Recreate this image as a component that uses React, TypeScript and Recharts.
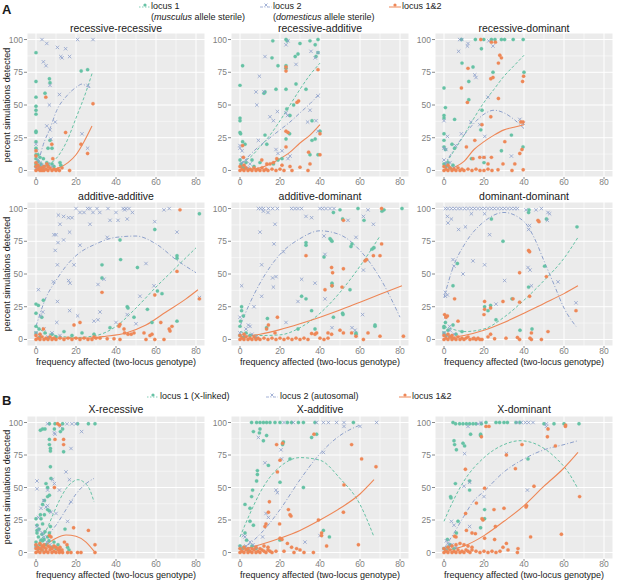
import { CartesianGrid, ComposedChart, Line, Scatter, XAxis, YAxis } from "recharts";

type Pt = [number, number];

// fitted curve points and raw points
const rrGreen: Pt[] = [[0,90],[0,68],[0,56],[0,49],[0,46],[0,43],[0,30],[0,29],[0,22],[0,17],[0,12],[0,9],[0,5],[0,3],[6.7,70],[7,67],[4.5,59],[7,23],[6,17],[8,17],[22.6,76],[25.8,77],[12,6],[12.4,4],[1,12],[2,10],[3.7,9],[5.4,6],[2.5,5],[1,7],[2,3],[4,3],[6,4],[8,5],[9,3],[3,1],[1,1]];
const rrBlue: Pt[] = [[3,100],[20.8,100],[28.5,100],[5.4,97],[10.7,94],[14.8,93],[12.4,87],[13,86],[16.8,87],[3.7,83],[5,80],[7,65],[26,65],[11.7,58],[6.7,50],[9.6,37],[5.4,34],[7,31],[7.4,24],[23,28],[25.8,17],[0.3,15],[0,20],[1,8],[2,6],[3,4],[1,3],[4,2],[6,5],[8,3],[5,1],[2,1],[0,2]];
const rrOrange: Pt[] = [[4.9,56],[28.5,51],[14.8,29],[7.9,20],[22.5,20],[25.8,13],[0,15],[0,11],[0,6],[8.4,9],[5.4,5],[0,3],[1,1],[2,0],[3,2],[4,0],[5,1],[6,0],[7,2],[8,0],[9,1],[10,0],[11,1],[11.7,0],[16.8,0],[13,2],[1,4],[2,2],[3,0],[0,0],[4,3],[6,3]];
const rrGreenFit: Pt[] = [[1,3],[5,4],[10,9],[15,21],[20,40],[25,60],[28,74]];
const rrBlueFit: Pt[] = [[1,5],[3.7,20],[7,32],[10.4,46],[15.4,57],[20.5,64],[23,66],[25.8,64],[28,63]];
const rrOrangeFit: Pt[] = [[3,1],[8,1],[12,2.5],[16,6],[20,12],[24,22],[28,34]];

const raGreen: Pt[] = [[16.4,99],[23,100],[23.6,99],[35,99],[39,100],[30,97],[37.6,96],[1.3,80],[29,89],[27.6,87],[16,86],[39,90],[38,87],[23,80],[23,78],[19,80],[18,62],[23,62],[28,66],[33,62],[12.5,60],[12,59],[0,65],[0,40],[0,38],[0.3,28],[0,29],[1.3,22],[2.5,20],[12.5,27],[13.4,20],[23.4,47],[25,42],[23,24],[36,38],[36,23],[40,30],[35,12],[39,12],[37.6,24],[24.8,28],[26.8,50],[6,8],[10,6],[16.7,5],[19,8],[21,9],[0,8],[0.5,5],[1,3],[2,2],[3,6],[7,3]];
const raBlue: Pt[] = [[23,96],[24,99],[35.5,91],[39,90],[37.6,86],[12.5,87],[28,81],[9.7,72],[8,60],[12,60],[8.4,50],[18.7,45],[15,41],[16.7,38],[23,44],[23.8,42],[35,46],[38,38],[39,57],[33.8,37],[9.2,23],[21,15],[0,17],[0,19],[1,15],[18,16],[19,13],[25,11],[24,9],[39,30],[0.8,6],[2,4],[4,2],[1,10],[3,8],[5,5]];
const raOrange: Pt[] = [[23,79],[23,76],[39,77],[28.5,52],[29.3,53],[23,30],[24,29],[23,18],[40,28],[40,12],[34.3,14],[35,5],[30,2.5],[34,0],[26,0],[25,3],[16.7,6],[15,5],[18.4,9],[21,4],[13.4,5],[1.3,19],[1.7,10],[10.9,8],[0,0],[1,1],[2,0],[3,2],[4,0],[5,1],[6,0],[7,2],[8,0],[9,1],[10,0],[11,2],[12,0],[13,1],[14,0],[16,1],[18,0],[20,1],[22,0],[0,3],[2,4]];
const raGreenFit: Pt[] = [[1,6],[5,10],[10,18],[15,27],[20,38],[25,50],[30,62],[35,73],[40,82]];
const raBlueFit: Pt[] = [[1,5],[5,12],[10,19],[15,25],[20,31],[25,37],[30,44],[35,51],[40,59]];
const raOrangeFit: Pt[] = [[2,1],[6,1],[10,2],[15,5],[20,9],[25,14],[30,21],[35,27],[40,35]];

const rdGreen: Pt[] = [[8.7,100],[15.7,100],[19.9,100],[23.7,100],[25.5,100],[28.7,100],[30.3,100],[34.6,100],[39.6,100],[18.7,93],[9,82],[14.5,79],[12.4,68],[12.4,54],[0,63],[0.7,48],[0,42],[0,40],[5.3,39],[0,28],[0,23],[0,18],[0.7,16],[4,20],[5.3,17],[19,46],[18.4,31],[24.5,75],[40,75],[39.5,18],[33.7,27],[28.7,15],[13.7,9],[20,6],[0,5],[1,3],[2,6],[3,2],[4.5,4]];
const rdBlue: Pt[] = [[7.8,100],[9,100],[12,97],[11.7,95],[22.4,99],[24.5,95],[7.3,91],[15.4,73],[16,71],[22,56],[13.4,37],[8.7,28],[5.8,19],[0,38],[1.7,26],[0,17],[1,16],[17.9,35],[20.4,26],[33.7,11],[37.9,39],[39.6,36],[20,10],[0,8],[1,5],[2,3],[3,6],[5,2]];
const rdOrange: Pt[] = [[18.4,100],[23.7,98],[25.7,98],[23.4,70],[24.5,71],[27.9,88],[28.7,86],[27.2,82],[12,78],[39.8,72],[39.3,68],[11.7,52],[8.7,63],[27.2,55],[23.4,41],[19,35],[38.4,37],[39.5,37],[30.4,22],[15.4,23],[11.2,18],[39,16],[37.9,13],[14.5,9],[17.9,10],[20,10],[23.7,10],[22,5],[29.5,5],[35.4,5],[39.6,0.5],[34,0],[27,0.5],[0,0],[1,1],[2,0],[3,2],[4,0],[5,1],[6,0],[7,2],[8,0],[9,1],[10,0],[12,1],[14,0],[16,1],[18,0],[20,0],[22,1],[24,0],[0,3],[2,4]];
const rdGreenFit: Pt[] = [[0,3],[5,15],[10,27],[15,40],[20,52],[25,62],[30,72],[35,80],[40,88]];
const rdBlueFit: Pt[] = [[0,4],[5,16],[10,27],[15,36],[20,43],[25,46],[30,44],[35,39],[40,32]];
const rdOrangeFit: Pt[] = [[3,1],[6,3],[10,7],[15,16],[20,22],[25,27],[30,31],[35,33],[40,35]];

const aaGreen: Pt[] = [[81.7,96],[59.4,84],[42,76],[42.3,61],[50.7,55],[70.5,64],[70.5,62],[33,57],[33,47],[60.7,37],[63,35],[45.6,25],[46,24],[55.7,23],[49,17],[70.5,14],[58,13],[0,20],[0,27],[1.2,26],[3.7,30],[2.9,17],[0,10],[1.5,8],[4.5,5],[8,4],[37,9],[23,5],[29,4],[14,6],[18,3],[0,5],[2,2],[6,1],[10,2]];
const aaBlue: Pt[] = [[20,100],[25.8,100],[27,100],[30.5,100],[36,100],[43.6,100],[45,100],[46.5,100],[64,99],[66.6,100],[22,97],[24,97],[28.5,97],[31.9,97],[40,97],[44.3,99],[48.2,97],[11.2,95],[13.8,94],[16.3,93],[18,93],[12,88],[27,88],[37,91],[41,91],[45.6,92],[59.4,90],[9,80],[10,80],[11,74],[13.8,76],[16.8,82],[70.5,82],[9.6,68],[22,72],[35.6,78],[19,57],[10.7,57],[16.3,45],[17,43],[8.7,44],[34,46],[31,42],[55,58],[59,41],[52,33],[81.7,32],[1.2,38],[10.7,29],[16.8,22],[20.8,18],[32,21],[45.6,19],[2.3,18],[3.4,21],[10.4,13],[29,14],[31,15],[40,13],[50,12],[0,5],[2,3],[4,8],[6,2],[8,5],[12,3]];
const aaOrange: Pt[] = [[72,99],[70.5,52],[33,36],[59.4,34],[81.7,31],[42,11.5],[41.5,10],[22,13],[19,11],[44,8],[54,5],[62.4,13],[66.6,8],[67,6.5],[68,10],[57,3],[59.4,0],[64,0],[58,4],[55,0],[49,5],[47.6,4],[46,4],[44.3,5],[42,0],[35.6,0.5],[39,0.5],[32,1],[29,2],[3.7,8],[0,0],[1,1],[2,0],[3,2],[4,0],[5,1],[6,0],[7,2],[8,0],[9,1],[10,0],[12,1],[14,0],[16,1],[18,0],[20,1],[22,0],[24,1],[26,0],[28,0],[30,1],[0,3],[2,4]];
const aaGreenFit: Pt[] = [[0,10],[5,5],[10,3],[20,1.5],[30,3],[40,10],[50,24],[60,40],[70,55],[80,70]];
const aaBlueFit: Pt[] = [[0,10],[5,32],[10,45],[15,56],[20,64],[30,73],[40,78],[50,79],[60,73],[70,61],[80,51]];
const aaOrangeFit: Pt[] = [[5,1.5],[15,1],[25,1],[35,2.5],[45,5],[55,11],[65,21],[75,31],[81,38]];

const adGreen: Pt[] = [[59,100],[81,100],[71,98],[72,99],[46.7,97],[50,99],[51.3,92],[62,91],[33,74],[33,72],[45,77],[45.5,76],[46,75],[42,63],[56,73],[55.5,71],[66,69],[67,70],[46,43],[46,41],[55,38],[30.8,33],[33,31],[35.8,22],[46.7,17],[51.3,20],[51.5,19],[0.8,25],[0.8,22],[1.7,18],[0.3,14],[0,10],[3,5],[13.7,16],[13.3,9],[29,8],[37.5,8],[67.5,10],[67.5,11],[58,5],[58,4],[0,3],[2,2],[5,3],[8,1]];
const adBlue: Pt[] = [[9.2,100],[10.4,100],[11.7,100],[14.2,100],[16.3,100],[18.7,100],[25.8,100],[27.5,100],[29,100],[30.8,100],[40,100],[41.3,100],[43,100],[45,100],[47,100],[11.7,98],[14,97],[17.5,88],[33,94],[35.8,93],[54,91],[61.7,94],[64,99],[66.7,88],[10,82],[42,79],[58,78],[17,73],[42.5,65],[21.7,67],[61.7,53],[10.8,57],[16.3,47],[18,48],[30.8,46],[37.5,43],[16.7,40],[0.8,41],[10.8,33],[7,25],[29,29],[42.5,31],[61.3,19],[23,13],[0,17],[4.2,11],[5,10],[46,9],[56,9],[57.5,7],[0,5],[2,3],[3,8],[6,4],[8,2]];
const adOrange: Pt[] = [[70.8,100],[51.7,91],[33,64],[45.8,55],[46.3,51],[51.7,54],[42.5,38],[46,41],[51,40],[70.8,73],[66.7,64],[70,64],[62.5,60],[63.3,61],[18.7,17],[14.2,11],[13.3,8],[17.5,5],[38.3,5],[37.5,4],[35.8,4.5],[44,5],[45.8,4],[50,7],[51.7,5],[61.7,0],[64,5],[70,2.5],[81.7,2.5],[58,2.5],[55.8,5],[0,0],[1,1],[2,0],[3,2],[4,0],[5,1],[6,0],[7,2],[8,0],[9,1],[10,0],[12,1],[14,0],[16,1],[18,0],[20,1],[22,0],[24,1],[26,0],[28,1],[30,0],[32,1],[34,0],[40,1],[42,0],[44,1],[0,3],[2,4]];
const adGreenFit: Pt[] = [[0,6],[10,3],[20,3.5],[30,9],[40,20],[50,36],[60,56],[70,79]];
const adBlueFit: Pt[] = [[0,10],[5,28],[10,43],[20,65],[30,77],[40,83],[50,80],[60,68],[70,47],[80,17]];
const adOrangeFit: Pt[] = [[0,2],[10,4],[20,7.5],[30,12],[40,17],[50,22.5],[60,28.5],[70,34.5],[81,41]];

const ddGreen: Pt[] = [[23.7,92],[42.3,97],[42.5,99],[51.2,92],[29.5,75],[6.7,58],[4.5,41],[50.3,56],[42.3,40],[34,31],[23.3,26],[26,15],[0.7,13],[0,10],[0,9],[4.5,11],[2,7],[9,6],[38,7],[44,8],[66.5,86],[20.3,25],[22,22],[0,5],[1,3],[3,2],[6,4]];
const ddBlue: Pt[] = [[0.7,100],[2,100],[3.7,100],[5.3,100],[7,100],[8.5,100],[10.3,100],[12,100],[13.7,100],[15.3,100],[17,100],[18.7,100],[20.3,100],[22,100],[23.7,100],[25.3,100],[27,100],[28.7,100],[30.3,100],[32,100],[33.7,100],[35.3,100],[36.7,100],[41,99],[46,99],[48.7,100],[52,97],[1.7,94],[3.7,92],[2,89],[13.7,96],[20.3,96],[42.8,87],[42.3,84],[7.3,84],[10.7,86],[22.8,80],[51.7,91],[52.8,96],[4.5,61],[5,56],[14.5,60],[9.5,50],[20.3,57],[42,55],[43,53],[0.7,36],[0.7,33],[1.7,34],[30.3,45],[26,27],[43.7,41],[57,44],[66,28],[0.7,17],[2.8,10],[0,5],[1.5,3],[3,7],[5,4]];
const ddOrange: Pt[] = [[42.3,68],[42.8,67],[47,91],[47.5,90],[37.8,51],[51.2,48],[5.3,31],[20.3,29],[34.5,31],[42.8,33],[29.5,29],[37.8,28.5],[23.3,24],[20.3,23],[20,19],[0.3,19],[1,17],[1.7,18],[7,14],[66,22],[52,6],[43.7,5],[43,1],[48.7,0],[43.7,0],[37.8,0],[36.7,1.5],[31,1],[25.3,0.5],[23.3,4],[22,2],[14.5,0.5],[19,0],[0,0],[1,1],[2,0],[3,2],[4,0],[5,1],[6,0],[7,2],[8,0],[9,1],[10,0],[11,1],[12,2],[13,0],[15,1],[16,0],[17,1],[18,0],[0,3],[2,4],[4,3]];
const ddGreenFit: Pt[] = [[0,10],[5,7.5],[10,6],[20,8],[30,17],[40,30],[50,45],[60,62],[67,78]];
const ddBlueFit: Pt[] = [[0,32],[5,57],[10,72],[20,90],[30,97],[40,90],[45,78],[50,60],[55,42],[60,24],[66,10]];
const ddOrangeFit: Pt[] = [[2,1],[10,3],[20,7],[30,13],[40,20],[50,27.5],[60,35],[67,41]];

const xrGreen: Pt[] = [[2.2,94],[3.3,95],[4.5,95],[6.7,99],[9.5,99],[13.3,99],[20.8,99],[26.2,99],[29.5,99],[9.2,95],[13.3,95],[12.2,93],[6.7,87],[6.7,83],[7.2,80],[7.2,78],[13.8,77.5],[7.2,66],[7.5,57],[5,53],[5.8,50],[6.7,44],[5.8,43],[4.2,40],[3.3,37],[5.8,33],[6.7,32],[4.2,29],[2.2,29],[2.5,26],[0,26],[3.3,22],[0.5,21],[0.5,17],[0.5,15],[1.2,12],[2.5,9.5],[3.3,9],[6.7,15],[5.8,12],[7.2,20],[14.5,18],[15.8,4],[16.5,2],[6.5,9],[0,8],[0,5],[1,3],[2,6],[3,2],[4,10],[5,6],[8,4],[9,8],[10,3],[11,6],[12,2],[1.5,18],[3,14],[4.5,16]];
const xrBlue: Pt[] = [[5.8,99],[15.5,99],[20,99],[18,99],[22.8,93],[12.2,97],[9.2,92],[9.5,91],[17.5,80],[15,62],[8.3,56],[0.5,55],[9.2,53],[0.5,49],[5.8,48],[11.7,48],[16.7,56],[17.5,39],[3.8,40],[5.8,36],[5,35],[2.5,34],[7.5,31],[10,30],[15.8,24],[1.2,27],[0.5,20],[1.5,17],[3.3,15],[4,12],[5.5,8],[0,5],[2,3],[7,6],[9,4]];
const xrOrange: Pt[] = [[10.8,99],[11.7,98],[9.5,87],[13.8,87],[13.8,83],[9.2,50],[18.8,19],[26.2,17],[14.2,8],[15.5,6],[29.5,6],[11.7,0],[13.3,0],[15.8,0],[17.5,0],[20.8,0],[22.5,0],[29.5,0],[7.5,12],[6.7,13],[0,0],[1,1],[2,0],[3,2],[4,0],[5,1],[6,0],[7,2],[8,0],[9,1],[10,0],[11,2],[12,1],[0,3],[1,4],[2,3],[3,5],[4,4],[5,3],[6,5],[7,4],[8,3],[9,5],[10,4],[11,3],[12,4],[13,2],[0,6],[2,7],[4,6]];
const xrGreenFit: Pt[] = [[0,4],[3,11],[6,20],[9,31],[12,41],[15,49],[18,54],[21,56],[24,54],[27,48],[29,39]];
const xrBlueFit: Pt[] = [[0,4],[5,12],[10,21],[15,33],[20,45],[25,53],[29,57]];
const xrOrangeFit: Pt[] = [[1,2],[5,6],[10,11],[15,13.5],[20,12.5],[25,8],[29,1]];

const xaGreen: Pt[] = [[5.8,100],[8.3,100],[10,100],[11.7,100],[13.3,100],[15,100],[17.5,100],[20,100],[23.7,100],[25.8,100],[29.2,100],[31.7,100],[37.5,100],[56.7,100],[6.7,93],[10,95],[9.7,92],[11.7,86],[13.3,90],[21.7,85],[21.3,83],[25,72],[14.2,67],[8.7,63],[8.7,60],[20,54],[8.3,55],[6.3,48],[5.8,43],[2.5,37],[5,34],[31.7,50],[6.7,21],[5,24],[2.5,15],[3.3,9.5],[20,9.5],[41.7,17],[44.7,12],[35.8,88.5],[38.3,91],[0,5],[1,3],[2,4],[4,2],[6,5],[8,3]];
const xaBlue: Pt[] = [[22,100],[26.7,100],[38.3,100],[41.7,100],[44.2,100],[48.3,100],[52,100],[52,97],[68.3,100],[60,97],[9.2,88.5],[20.8,72],[20.5,79],[12.5,69],[18,48],[18.7,46],[41.7,77],[13,30],[14.2,27],[11.3,12],[1.7,13],[2.5,12],[40,13],[32.5,8],[5,8],[6.5,6],[0,4],[1,2],[3,5],[4,3],[8,4]];
const xaOrange: Pt[] = [[18.3,83],[21.3,84],[20,71],[18.7,62],[37,91],[55.8,83],[60.8,72],[68,66],[52,52],[51.7,31],[39.2,25],[24.2,33],[25,29],[25.5,28],[14.7,39],[14.2,31],[13,22],[12.5,20],[19.8,22],[40.8,13],[40.8,15],[43.3,5],[59.2,6],[20,11],[21,10],[23.7,7],[25.8,4],[28.3,3],[30,2],[36.7,0],[32,0],[27,0],[22,1],[18,1],[0,0],[1,1],[2,0],[3,2],[4,0],[5,1],[6,0],[7,2],[8,0],[9,1],[10,0],[11,2],[12,1],[13,0],[14,2],[15,1],[16,0],[0,3],[2,4],[4,3],[6,3],[8,4],[10,3],[12,5],[14,4]];
const xaGreenFit: Pt[] = [[0,12],[5,30],[10,46],[15,58],[20,66],[30,73],[40,71],[50,57],[60,37],[67,12]];
const xaBlueFit: Pt[] = [[0,2],[5,7],[10,14],[20,33],[30,56],[40,76],[50,90],[60,98]];
const xaOrangeFit: Pt[] = [[0,2],[10,6],[20,11],[30,17],[40,25],[50,34],[60,45],[67,56]];

const xdGreen: Pt[] = [[4.5,100],[5.8,99],[7.8,99],[9.5,99],[11.2,99],[12.8,99],[14.5,99],[16,99],[18.7,99],[21,100],[26,100],[27.8,100],[30,100],[31.7,100],[36,100],[38,100],[50,99],[55,99],[60,99],[67.5,99],[5,86],[5.3,83],[6.2,79],[9.5,84],[10.3,82],[13.3,91],[18.3,91],[5.7,53],[12.8,55],[12.8,48],[3.3,43],[3.5,42],[20.3,33],[20.3,26],[18.3,19],[7,24],[6.2,15],[1.7,10],[42,72],[18.3,90],[0,3],[1,2],[2,4],[3,6],[5,3]];
const xdBlue: Pt[] = [[17,99],[12,97],[18.5,100],[38.7,100],[40.7,100],[42.3,100],[44.5,100],[36.5,100],[51.2,99],[51.2,97],[10.3,76],[31.2,76],[12.8,54],[10,51],[20,43],[41.7,48],[3.7,24],[5,21],[12.8,20],[1.2,9],[2,7],[3,5],[4,6],[0,3],[1,2],[6,4]];
const xdOrange: Pt[] = [[10.7,64],[18.7,89],[21,97],[22.5,97],[52,95],[51.7,89],[60.7,97],[60.8,98],[55.7,82],[39,83],[31.2,75],[35.7,64.5],[41.3,36],[41,35],[45,51],[20.3,49.5],[16.2,38],[19,26],[19.5,25],[25,33],[30,34],[25.7,20],[10.8,30],[11.2,17],[15.7,14.5],[14,15],[31.2,7],[43.3,12],[58.7,14],[67.8,43],[5.3,12.5],[6,12],[20.3,11],[25.3,10],[29.5,4],[32,2],[37,3],[36.7,0],[0,0],[1,1],[2,0],[3,2],[4,0],[5,1],[6,0],[7,2],[8,0],[9,1],[10,0],[11,2],[12,1],[13,0],[14,2],[16,1],[18,0],[20,1],[22,0],[24,1],[26,0],[28,1],[0,3],[2,4],[4,5],[6,6],[8,7],[10,6],[12,5],[14,4]];
const xdGreenFit: Pt[] = [[0,24],[5,41],[10,55],[20,73],[30,83],[38,86],[45,84],[55,74],[62,62],[67,49]];
const xdBlueFit: Pt[] = [[0,3],[5,15],[10,28],[15,40],[20,47],[30,62],[40,72],[50,79],[60,83],[67,86]];
const xdOrangeFit: Pt[] = [[0,1.5],[10,5],[20,13],[30,24],[40,36],[50,51],[60,65],[67,77]];

const xTicks = [0, 20, 40, 60, 80];
const yTicks = [0, 25, 50, 75, 100];

const GREEN = "#66c2a5";
const BLUE = "#8da0cb";
const ORANGE = "#ee8757";
const FONT = '"Liberation Sans", Arial, Helvetica, sans-serif';

const PW = 178;
const YW = 26;
const XH = 14;
const colLeft = [27, 231, 435];
const rowTop = [32.5, 201.5, 415.5];
const rowH = [144, 144, 143];

const toXY = (pts: Pt[]) => pts.map(([x, y]) => ({ x, y }));

const panels = [
  { title: "recessive-recessive", col: 0, row: 0, g: rrGreen, b: rrBlue, o: rrOrange, gf: rrGreenFit, bf: rrBlueFit, of: rrOrangeFit },
  { title: "recessive-additive", col: 1, row: 0, g: raGreen, b: raBlue, o: raOrange, gf: raGreenFit, bf: raBlueFit, of: raOrangeFit },
  { title: "recessive-dominant", col: 2, row: 0, g: rdGreen, b: rdBlue, o: rdOrange, gf: rdGreenFit, bf: rdBlueFit, of: rdOrangeFit },
  { title: "additive-additive", col: 0, row: 1, g: aaGreen, b: aaBlue, o: aaOrange, gf: aaGreenFit, bf: aaBlueFit, of: aaOrangeFit },
  { title: "additive-dominant", col: 1, row: 1, g: adGreen, b: adBlue, o: adOrange, gf: adGreenFit, bf: adBlueFit, of: adOrangeFit },
  { title: "dominant-dominant", col: 2, row: 1, g: ddGreen, b: ddBlue, o: ddOrange, gf: ddGreenFit, bf: ddBlueFit, of: ddOrangeFit },
  { title: "X-recessive", col: 0, row: 2, g: xrGreen, b: xrBlue, o: xrOrange, gf: xrGreenFit, bf: xrBlueFit, of: xrOrangeFit },
  { title: "X-additive", col: 1, row: 2, g: xaGreen, b: xaBlue, o: xaOrange, gf: xaGreenFit, bf: xaBlueFit, of: xaOrangeFit },
  { title: "X-dominant", col: 2, row: 2, g: xdGreen, b: xdBlue, o: xdOrange, gf: xdGreenFit, bf: xdBlueFit, of: xdOrangeFit },
];

const Dot = (color: string) => (props: any) =>
  <circle cx={props.cx} cy={props.cy} r={1.7} fill={color} stroke={color} strokeOpacity={0.6} strokeWidth={0.4} />;

const Cross = (props: any) => {
  const { cx, cy } = props;
  const s = 1.7;
  return (
    <path
      d={`M${cx - s},${cy - s}L${cx + s},${cy + s}M${cx - s},${cy + s}L${cx + s},${cy - s}`}
      stroke={BLUE}
      strokeWidth={0.8}
      fill="none"
    />
  );
};

const Text = ({ x, y, children, size = 9, rotate = false, anchor = "center", style = {} }: any) => (
  <div
    style={{
      position: "absolute",
      left: x,
      top: y,
      transform: `translate(${anchor === "left" ? "0" : "-50%"}, -50%)${rotate ? " rotate(-90deg)" : ""}`,
      fontSize: size,
      fontFamily: FONT,
      whiteSpace: "nowrap",
      lineHeight: 1,
      color: "#1a1a1a",
      ...style,
    }}
  >
    {children}
  </div>
);

const Key = ({ x, y, kind }: { x: number; y: number; kind: "g" | "b" | "o" }) => (
  <svg style={{ position: "absolute", left: x, top: y - 5 }} width={12} height={10}>
    {kind === "g" && (
      <>
        <line x1={0} y1={6} x2={12} y2={6} stroke={GREEN} strokeWidth={0.8} strokeDasharray="1.5 1.5" />
        <circle cx={6} cy={4} r={1.6} fill={GREEN} />
      </>
    )}
    {kind === "b" && (
      <>
        <line x1={0} y1={6} x2={12} y2={6} stroke={BLUE} strokeWidth={0.8} strokeDasharray="3 1.5 1 1.5" />
        <path d="M4.5,2.5L7.5,5.5M4.5,5.5L7.5,2.5" stroke={BLUE} strokeWidth={0.8} />
      </>
    )}
    {kind === "o" && (
      <>
        <line x1={0} y1={6} x2={12} y2={6} stroke={ORANGE} strokeWidth={1} />
        <circle cx={6} cy={4} r={1.6} fill={ORANGE} />
      </>
    )}
  </svg>
);

const Panel = ({ p }: { p: (typeof panels)[number] }) => {
  const left = colLeft[p.col];
  const top = rowTop[p.row];
  const ph = rowH[p.row];
  const tickStyle = { fontSize: 8.5, fill: "#7f7f7f", fontFamily: FONT };
  return (
    <div style={{ position: "absolute", left: left - YW, top }}>
      <ComposedChart width={PW + YW} height={ph + XH} margin={{ top: 0, right: 0, bottom: 0, left: 0 }}>
        <CartesianGrid
          fill="#ebebeb"
          stroke="#ffffff"
          strokeWidth={0.5}
          horizontalValues={[12.5, 37.5, 62.5, 87.5]}
          verticalValues={[10, 30, 50, 70]}
        />
        <CartesianGrid stroke="#ffffff" strokeWidth={1} />
        <XAxis
          type="number"
          dataKey="x"
          domain={[-4.5, 84.5]}
          ticks={xTicks}
          interval={0}
          allowDataOverflow
          axisLine={false}
          tickLine={{ stroke: "#8a8a8a" }}
          tickSize={2}
          tickMargin={0}
          tick={tickStyle}
          height={XH}
        />
        <YAxis
          type="number"
          dataKey="y"
          domain={[-5, 105]}
          ticks={yTicks}
          interval={0}
          allowDataOverflow
          axisLine={false}
          tickLine={{ stroke: "#8a8a8a" }}
          tickSize={3}
          tickMargin={1}
          tick={tickStyle}
          width={YW}
        />
        <Scatter data={toXY(p.g)} shape={Dot(GREEN)} isAnimationActive={false} />
        <Scatter data={toXY(p.b)} shape={Cross} isAnimationActive={false} />
        <Scatter data={toXY(p.o)} shape={Dot(ORANGE)} isAnimationActive={false} />
        <Line data={toXY(p.gf)} dataKey="y" type="monotone" stroke={GREEN} strokeWidth={1} strokeDasharray="3 2" dot={false} activeDot={false} isAnimationActive={false} />
        <Line data={toXY(p.bf)} dataKey="y" type="monotone" stroke={BLUE} strokeWidth={1} strokeDasharray="4 2 1 2" dot={false} activeDot={false} isAnimationActive={false} />
        <Line data={toXY(p.of)} dataKey="y" type="monotone" stroke={ORANGE} strokeWidth={1.1} dot={false} activeDot={false} isAnimationActive={false} />
      </ComposedChart>
    </div>
  );
};

export default function App() {
  const titleY = [27.5, 195.5, 409];
  return (
    <div style={{ position: "absolute", left: 0, top: 0, width: 617, height: 581, background: "#fff", overflow: "hidden", fontFamily: FONT }}>
      {panels.map((p) => (
        <Panel key={p.title} p={p} />
      ))}
      {panels.map((p) => (
        <Text key={p.title + "t"} x={colLeft[p.col] + PW / 2} y={titleY[p.row]} size={10.5}>
          {p.title}
        </Text>
      ))}
      {rowTop.map((t, i) => (
        <Text key={"yl" + i} x={7} y={t + rowH[i] / 2} size={9} rotate>
          percent simulations detected
        </Text>
      ))}
      {[1, 2].map((r) =>
        colLeft.map((l, c) => (
          <Text key={"xl" + r + c} x={l + PW / 2} y={r === 1 ? 362 : 574.5} size={9}>
            frequency affected (two-locus genotype)
          </Text>
        ))
      )}

      <Text x={2} y={9} size={13} anchor="left" style={{ fontWeight: "bold" }}>A</Text>
      <Key x={139} y={6} kind="g" />
      <Text x={151} y={6} anchor="left">locus 1</Text>
      <Text x={151} y={17} anchor="left">(<i>musculus</i> allele sterile)</Text>
      <Key x={260} y={6} kind="b" />
      <Text x={273} y={6} anchor="left">locus 2</Text>
      <Text x={273} y={17} anchor="left">(<i>domesticus</i> allele sterile)</Text>
      <Key x={389} y={6} kind="o" />
      <Text x={402} y={6} anchor="left">locus 1&amp;2</Text>

      <Text x={2} y={400} size={13} anchor="left" style={{ fontWeight: "bold" }}>B</Text>
      <Key x={147} y={396} kind="g" />
      <Text x={160} y={396} anchor="left">locus 1 (X-linked)</Text>
      <Key x={266} y={396} kind="b" />
      <Text x={280} y={396} anchor="left">locus 2 (autosomal)</Text>
      <Key x={399} y={396} kind="o" />
      <Text x={412} y={396} anchor="left">locus 1&amp;2</Text>
    </div>
  );
}
